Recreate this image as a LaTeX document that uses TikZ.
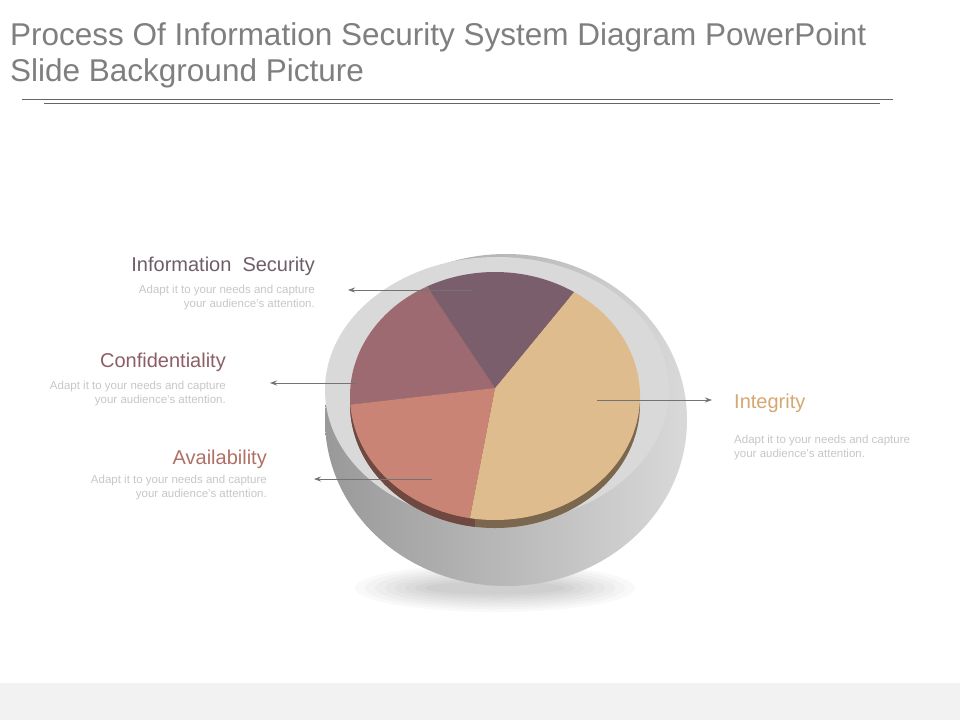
\documentclass[tikz,border=0pt]{standalone}
\usepackage{fontspec}
\setmainfont{Liberation Sans}
\usetikzlibrary{arrows.meta,calc}
\definecolor{ttl}{HTML}{7F7F7F}
\definecolor{cInfo}{HTML}{7A5E6C}
\definecolor{cConf}{HTML}{9E6A72}
\definecolor{cAvail}{HTML}{C98476}
\definecolor{cInt}{HTML}{DFBC8E}
\definecolor{tInfo}{HTML}{6E5E68}
\definecolor{tConf}{HTML}{8E5E66}
\definecolor{tAvail}{HTML}{B07066}
\definecolor{tInt}{HTML}{D4A870}
\tikzset{
 head/.style={font=\fontsize{20}{22}\selectfont,inner sep=0},
 body/.style={font=\fontsize{11.5}{14}\selectfont,text=black!22,align=right,inner sep=0},
 con/.style={draw=black!55,line width=0.8pt,-{Stealth[length=7pt,width=5pt]}},
}
\begin{document}
\begin{tikzpicture}[x=1pt,y=1pt]
\useasboundingbox (0,0) rectangle (960,-720);
\fill[white] (0,0) rectangle (960,-720);
\fill[black!5] (0,-683) rectangle (960,-720);
\node[anchor=north west,align=left,text=ttl,font=\fontsize{31.5}{36}\selectfont,inner sep=0] (title) at (10,-22) {Process Of Information Security System Diagram PowerPoint\\Slide Background Picture};
\draw[black!60,line width=1pt] (22,-99) -- (893,-99);
\draw[black!60,line width=1pt] (44,-103) -- (880,-103);
% shadow
\foreach \i in {1,...,8}{\fill[black,opacity=0.025] (495,-588) ellipse[x radius=60+10*\i,y radius=4+2.5*\i];}
% bowl
\shade[left color=black!40,right color=black!15] (506,-420) ellipse[x radius=181,y radius=166];
\fill[black!15] (497,-390) ellipse[x radius=172,y radius=133];
% pie depth
\fill[black!45!cInt] (495,-404) ellipse[x radius=145,y radius=124];
\fill[black!45!cAvail] ($(495,-404)+(184:145 and 124)$) arc[start angle=184,end angle=262,x radius=145,y radius=124] -- ++(0,8) arc[start angle=262,end angle=184,x radius=145,y radius=124] -- cycle;
% slices
\coordinate (c) at (495,-388);
\fill[cInt] (c) -- ($(495,-396)+(57:145 and 124)$) arc[start angle=57,end angle=-100,x radius=145,y radius=124] -- cycle;
\fill[cInfo] (c) -- ($(495,-396)+(118:145 and 124)$) arc[start angle=118,end angle=57,x radius=145,y radius=124] -- cycle;
\fill[cConf] (c) -- ($(495,-396)+(184:145 and 124)$) arc[start angle=184,end angle=118,x radius=145,y radius=124] -- cycle;
\fill[cAvail] (c) -- ($(495,-396)+(260:145 and 124)$) arc[start angle=260,end angle=184,x radius=145,y radius=124] -- cycle;
% labels
\node[head,text=tInfo,anchor=south east] (hInfo) at (315,-276) {Information\ \ Security};
\node[body,anchor=north east] (bInfo) at (315,-285) {Adapt it to your needs and capture\\your audience's attention.};
\node[head,text=tConf,anchor=south east] (hConf) at (226,-372) {Confidentiality};
\node[body,anchor=north east] (bConf) at (226,-381) {Adapt it to your needs and capture\\your audience's attention.};
\node[head,text=tAvail,anchor=south east] (hAvail) at (267,-469) {Availability};
\node[body,anchor=north east] (bAvail) at (267,-475) {Adapt it to your needs and capture\\your audience's attention.};
\node[head,text=tInt,anchor=south west] (hInt) at (734,-413) {Integrity};
\node[body,anchor=north west,align=left] (bInt) at (734,-435) {Adapt it to your needs and capture\\your audience's attention.};
% connectors
\coordinate (sInfo) at (472,-290); \coordinate (eInfo) at (348,-290);
\coordinate (sConf) at (356,-383); \coordinate (eConf) at (270,-383);
\coordinate (sAvail) at (432,-479); \coordinate (eAvail) at (314,-479);
\coordinate (sInt) at (597,-400); \coordinate (eInt) at (712,-400);
\draw[con] (sInfo) -- (eInfo);
\draw[con] (sConf) -- (eConf);
\draw[con] (sAvail) -- (eAvail);
\draw[con] (sInt) -- (eInt);
\end{tikzpicture}
\end{document}
